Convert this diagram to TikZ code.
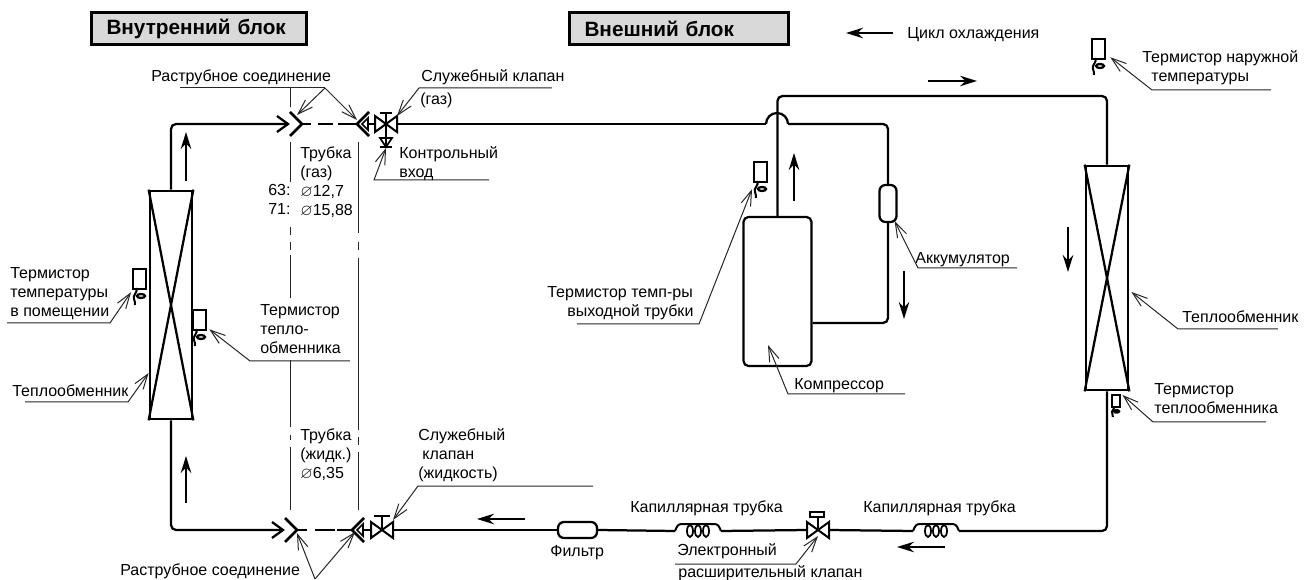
\documentclass[tikz,border=0pt]{standalone}
\usepackage{amssymb}
\usepackage{fontspec}
\setmainfont{Liberation Sans}
\usetikzlibrary{arrows.meta}

\tikzset{
    lbl/.style={anchor=north west, inner sep=0pt, yshift=1.6mm, align=left, font=\fontsize{9.1}{10.8}\selectfont, execute at begin node=\strut},
    titlebox/.style={draw, line width=.6mm, fill=black!15, anchor=west, inner xsep=3mm, minimum height=6.4mm, align=left, font=\fontsize{11.8}{14}\selectfont\bfseries},
    pipe/.style={line width=.45mm, rounded corners=1mm},
    partbox/.style={draw, line width=.45mm, inner sep=0pt},
    hxbox/.style={partbox, line width=.55mm, minimum width=8.4mm},
    tank/.style={partbox, rounded corners=1.2mm},
    thermbox/.style={partbox, anchor=north west, minimum width=2.6mm, minimum height=4mm, transform shape},
    leader/.style={line width=.2mm, black!85, -{Straight Barb[length=3mm,width=2mm]}},
    thinline/.style={line width=.2mm, black!85},
    flow/.style={line width=.35mm, -{Stealth[length=3.4mm,width=2.1mm]}},
    thermistor/.pic={
        \node[thermbox] (-box) at (0,0) {};
        \draw[line width=.4mm] (4,20) .. controls (7,24) and (0,27) .. (2,31) .. controls (3,33) and (3,35) .. (3,37);
        \draw[line width=.45mm] (9,28) ellipse [x radius=4, y radius=2];
    },
    valvebody/.pic={
        \draw[line width=.4mm] (-11,-8) -- (11,8) -- (11,-8) -- (-11,8) -- cycle;
        \coordinate (-c) at (0,0);
        \coordinate (-l) at (-11,0);
        \coordinate (-r) at (11,0);
    },
    flarein/.pic={
        \draw[line width=.45mm] (-11,-8) -- (0,0) -- (-11,8);
        \draw[line width=.55mm] (2,-12) -- (14,0) -- (2,12);
        \coordinate (-in) at (0,0);
    },
    flareend/.pic={
        \draw[line width=.55mm] (12,-12) -- (0,0) -- (12,12);
        \draw[line width=.35mm] (5,0) -- (11,-6) -- (11,6) -- cycle;
        \draw[line width=.35mm] (11,0) -- (18,0);
        \coordinate (-c) at (0,0);
    },
    coil/.pic={
        \draw[line width=.4mm] (0,0) .. controls (2,-5) and (3,-7) .. (7,-7) -- (39,-7) .. controls (43,-7) and (44,-5) .. (46,0);
        \draw[line width=.35mm] (15,0) ellipse [x radius=3, y radius=6];
        \draw[line width=.35mm] (23,0) ellipse [x radius=3, y radius=6];
        \draw[line width=.35mm] (31,0) ellipse [x radius=3, y radius=6];
        \coordinate (-l) at (0,0);
        \coordinate (-r) at (46,0);
    }
}

\begin{document}
\begin{tikzpicture}[x=.2mm, y=-.2mm]
    \useasboundingbox (0,0) rectangle (1308,580);

    \node[titlebox, text width=37mm] (titlein) at (90,29) {Внутренний блок};
    \node[titlebox, text width=37.8mm] (titleout) at (568,29) {Внешний блок};

    \coordinate (legendtail) at (893,33);
    \coordinate (legendtip) at (846,33);
    \draw[flow] (legendtail) -- (legendtip);
    \node[lbl] (legend) at (907,33) {Цикл охлаждения};

    \node[hxbox, minimum height=45.6mm] (hxin) at (171,305) {};
    \node[hxbox, minimum height=44.8mm] (hxout) at (1107,278) {};
    \node[tank, minimum width=13.6mm, minimum height=29.8mm, rounded corners=1mm] (comp) at (777.5,291.5) {};
    \node[tank, minimum width=3.4mm, minimum height=7.4mm] (accu) at (888,203.5) {};
    \node[tank, minimum width=7.8mm, minimum height=3.2mm] (filter) at (577.5,530) {};

    \draw[pipe] (hxin.north west) -- (hxin.south east);
    \draw[pipe] (hxin.north east) -- (hxin.south west);
    \draw[pipe] (hxout.north west) -- (hxout.south east);
    \draw[pipe] (hxout.north east) -- (hxout.south west);

    \pic (gasflare) at (288,124) {flarein};
    \pic (liqflare) at (283,530) {flarein};
    \pic (gasend) at (357,124) {flareend};
    \pic (liqend) at (352,530) {flareend};
    \pic (gasvalve) at (386,124) {valvebody};
    \pic (liqvalve) at (382,530) {valvebody};
    \pic (expvalve) at (818,530) {valvebody};
    \pic (capa) at (675,531) {coil};
    \pic (capb) at (913,531) {coil};

    \coordinate (humpl) at (766,124);
    \coordinate (humpr) at (788,124);
    \coordinate (topline) at (900,96);

    \draw[pipe] (hxin.north) |- (gasflare-in);
    \draw[pipe] (hxin.south) |- (liqflare-in);
    \draw[pipe] (gasvalve-r) -- (humpl);
    \draw[line width=.45mm] (humpl) arc [start angle=180, end angle=0, radius=2.2mm];
    \draw[pipe] (humpr) -| (accu.north);
    \draw[pipe] (accu.south) |- ([yshift=-6.3mm]comp.east);
    \draw[pipe] (comp.north) |- (topline) -| (hxout.north);
    \draw[pipe] (hxout.south) |- (capb-r);
    \draw[pipe] (capb-l) -- (expvalve-r);
    \draw[pipe] (expvalve-l) -- (capa-r);
    \draw[pipe] (capa-l) -- (filter.east);
    \draw[pipe] (filter.west) -- (liqvalve-r);

    % valve stems
    \draw[line width=.4mm] (gasvalve-c) -- ++(0,23) ++(-6,0) -- ++(12,0);
    \draw[line width=.4mm] (gasvalve-c) -- ++(0,-11) ++(-6,0) -- ++(12,0);
    \draw[line width=.35mm] ([xshift=-1.2mm,yshift=-2.8mm]gasvalve-c) -- ++(12,0) -- ++(-6,9) -- cycle;
    \draw[line width=.4mm] (liqvalve-c) -- ++(0,-14) ++(-8,0) -- ++(16,0);
    \draw[line width=.4mm] (expvalve-c) -- ++(0,-13);
    \node[partbox, minimum width=2.8mm, minimum height=1mm] (expcap) at (817,514.5) {};

    % flare to flare
    \draw[line width=.45mm] (gasflare-in) ++(15,0) -- ++(8,0) ++(7,0) -- ++(15,0) ++(5,0) -- ++(19,0);
    \draw[line width=.45mm] (liqflare-in) ++(15,0) -- ++(9,0) ++(8,0) -- ++(20,0) ++(2,0) -- ++(15,0);

    % pipe boundaries
    \draw[thinline] (290,88) -- (290,107) (290,142) -- (290,182) (290,227) -- (290,235) (290,242) -- (290,250) (290,255) -- (290,298) (290,360) -- (290,427) (290,435) -- (290,440) (290,447) -- (290,510);
    \draw[thinline] (358,142) -- (358,233) (358,242) -- (358,250) (358,258) -- (358,430) (358,437) -- (358,445) (358,452) -- (358,510);

    \pic (tsroom) at (132,268) {thermistor};
    \pic (tshxin) at (192,309) {thermistor};
    \pic (tscomp) at (753,161) {thermistor};
    \pic (tsair) at (1091,38) {thermistor};
    \pic[scale=.62] (tshxout) at (1111,394) {thermistor};

    \draw[flow] (186,181) -- (186,132);
    \draw[flow] (186,503) -- (186,456);
    \draw[flow] (928,81) -- (977,81);
    \draw[flow] (794,201) -- (794,153);
    \draw[flow] (904,271) -- (904,319);
    \draw[flow] (1068,227) -- (1068,272);
    \draw[flow] (525,519) -- (477,519);
    \draw[flow] (945,547) -- (897,547);

    \node[lbl] (lflaretop) at (151,76) {Раструбное соединение};
    \node[lbl] (lservgas) at (421,76) {Служебный клапан};
    \node[lbl] (lservgasb) at (420,99) {(газ)};
    \node[lbl] (ltubegas) at (300,154) {Трубка\\(газ)\\$\varnothing$12,7\\$\varnothing$15,88};
    \node[lbl] (lsizes) at (268,192) {63:\\71:};
    \node[lbl] (lcheck) at (399,154) {Контрольный\\вход};
    \node[lbl] (lroom) at (10,275) {Термистор\\температуры\\в помещении};
    \node[lbl] (lhxthin) at (260,312) {Термистор\\тепло-\\обменника};
    \node[lbl] (lhxin) at (12,391) {Теплообменник};
    \node[lbl] (ltubeliq) at (300,436) {Трубка\\(жидк.)\\$\varnothing$6,35};
    \node[lbl] (lservliq) at (418,436) {Служебный\\\hspace*{.8mm}клапан\\(жидкость)};
    \node[lbl] (lflarebot) at (120,570) {Раструбное соединение};
    \node[lbl] (lfilter) at (550,551) {Фильтр};
    \node[lbl] (lcapa) at (630,507) {Капиллярная трубка};
    \node[lbl] (lcapb) at (863,507) {Капиллярная трубка};
    \node[lbl] (lexp) at (677,551) {Электронный\\[.6mm]\hspace*{.2mm}расширительный клапан};
    \node[lbl] (ltscomp) at (547,294) {Термистор темп-ры\\\hspace*{4mm}выходной трубки};
    \node[lbl] (lcomp) at (794,384) {Компрессор};
    \node[lbl] (laccu) at (915,258) {Аккумулятор};
    \node[lbl] (lhxout) at (1182,317) {Теплообменник};
    \node[lbl] (ltshxout) at (1154,391) {Термистор\\теплообменника};
    \node[lbl] (ltsair) at (1142,58) {Термистор наружной\\\hspace*{1.8mm}температуры};

    \coordinate (ulflarea) at (180,88);
    \coordinate (ulflareb) at (325,88);
    \draw[thinline] (ulflarea) -- (ulflareb);
    \draw[leader] (ulflareb) -- ([xshift=1.8mm,yshift=1.8mm]gasflare-in);
    \draw[leader] (ulflareb) -- ([yshift=.8mm]gasend-c);

    \coordinate (ulservgasa) at (419,88);
    \coordinate (ulservgasb) at (552,88);
    \draw[leader] (ulservgasb) -- (ulservgasa) -- ([yshift=1.6mm]gasvalve-r);

    \coordinate (ulchecka) at (374,180);
    \coordinate (ulcheckb) at (489,180);
    \draw[leader] (ulcheckb) -- (ulchecka) -- ([yshift=-4.8mm]gasvalve-c);

    \coordinate (ulrooma) at (7,323);
    \coordinate (ulroomb) at (110,323);
    \draw[leader] (ulrooma) -- (ulroomb) -- ([xshift=-.2mm,yshift=-.4mm]tsroom-box.south west);

    \coordinate (ulhxtha) at (350,361);
    \coordinate (ulhxthb) at (250,361);
    \draw[leader] (ulhxtha) -- (ulhxthb) -- ([xshift=.4mm,yshift=.4mm]tshxin-box.south east);

    \coordinate (ulhxina) at (25,402);
    \coordinate (ulhxinb) at (128,402);
    \draw[leader] (ulhxina) -- (ulhxinb) -- ([yshift=-13.6mm]hxin.west);

    \coordinate (ulliqa) at (593,486);
    \coordinate (ulliqb) at (418,486);
    \draw[leader] (ulliqa) -- (ulliqb) -- ([yshift=2mm]liqvalve-r);

    \coordinate (ulflarec) at (315,579);
    \draw[leader] (ulflarec) -- ([xshift=2.8mm,yshift=-.6mm]liqflare-in);
    \draw[leader] (ulflarec) -- ([xshift=.6mm,yshift=-.4mm]liqend-c);

    \coordinate (ulexpa) at (675,564);
    \coordinate (ulexpb) at (796,564);
    \draw[leader] (ulexpa) -- (ulexpb) -- ([yshift=-1.2mm]expvalve-c);

    \coordinate (ultscompa) at (577,324);
    \coordinate (ultscompb) at (699,324);
    \draw[leader] (ultscompa) -- (ultscompb) -- ([xshift=-.2mm,yshift=-1.2mm]tscomp-box.south west);

    \coordinate (ulcompa) at (905,394);
    \coordinate (ulcompb) at (788,394);
    \draw[leader] (ulcompa) -- (ulcompb) -- ([xshift=-1.9mm,yshift=-10.7mm]comp.center);

    \coordinate (ulaccua) at (1017,268);
    \coordinate (ulaccub) at (918,268);
    \draw[leader] (ulaccua) -- (ulaccub) -- ([xshift=-.6mm,yshift=.4mm]accu.south east);

    \coordinate (ulhxouta) at (1278,329);
    \coordinate (ulhxoutb) at (1178,329);
    \draw[leader] (ulhxouta) -- (ulhxoutb) -- ([xshift=.4mm,yshift=-2.8mm]hxout.east);

    \coordinate (ultsouta) at (1266,422);
    \coordinate (ultsoutb) at (1153,422);
    \draw[leader] (ultsouta) -- (ultsoutb) -- ([xshift=.4mm,yshift=-.2mm]tshxout-box.north east);

    \coordinate (ultsaira) at (1271,90);
    \coordinate (ultsairb) at (1152,90);
    \draw[leader] (ultsaira) -- (ultsairb) -- ([xshift=.8mm,yshift=.6mm]tsair-box.south east);
\end{tikzpicture}
\end{document}
